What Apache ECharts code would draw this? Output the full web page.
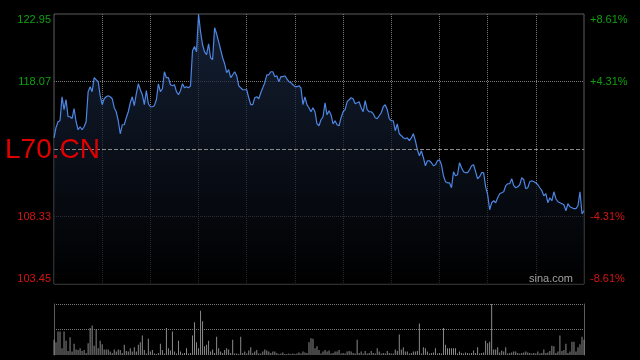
<!DOCTYPE html>
<html><head><meta charset="utf-8">
<script src="https://cdn.jsdelivr.net/npm/echarts@6/dist/echarts.min.js"></script>
<style>html,body{margin:0;padding:0;background:#000;}#c{width:640px;height:360px;}</style>
</head><body><div id="c"></div>
<script>
const symbolName = 'L70.CN';
const sourceText = 'sina.com';
const priceMin = 103.45, priceMax = 122.95, prevClose = 113.20;
const pctMin = -8.61, pctMax = 8.61, pctStep = 4.305;
const priceTickLabels = ['103.45', '108.33', '', '118.07', '122.95'];
const pctTickLabels = ['-8.61%', '-4.31%', '', '+4.31%', '+8.61%'];

const prices = [
114.01,114.74,115.17,115.24,116.97,116.04,116.76,115.53,115.53,115.39,
116.11,115.17,114.59,114.81,114.59,114.81,115.17,117.34,117.70,117.34,
118.35,118.20,118.06,117.05,116.40,116.83,116.97,117.05,116.97,116.83,
116.18,115.89,115.24,114.30,114.95,114.95,115.46,115.89,116.54,116.97,
116.33,117.19,117.91,117.48,117.12,116.40,117.41,116.47,116.25,116.25,
116.33,116.76,117.91,117.34,117.55,118.78,118.35,118.35,117.84,117.77,
117.84,117.34,117.12,117.41,117.91,117.62,117.70,117.62,117.77,120.30,
120.60,120.22,122.93,121.67,120.73,120.22,120.01,120.80,119.79,119.65,
121.96,121.52,120.95,120.37,119.79,119.36,118.71,118.93,118.35,118.56,
118.78,118.49,117.77,117.62,117.48,117.48,117.48,116.90,116.40,116.40,
116.90,116.97,116.83,117.26,117.62,117.99,118.56,118.56,118.78,118.78,
118.42,118.49,118.06,118.42,118.42,118.49,118.27,118.06,117.99,117.84,
117.70,117.70,117.77,117.62,116.40,116.97,116.40,116.18,115.89,116.18,
115.89,115.02,114.88,115.31,115.53,116.54,115.67,115.96,115.67,115.02,
115.24,114.95,114.88,115.46,115.89,116.04,116.61,116.76,116.90,116.83,
116.47,116.54,116.61,116.18,115.89,116.69,116.04,115.89,115.89,115.75,
115.46,115.39,115.60,115.82,116.25,116.40,116.04,115.39,115.24,115.24,
114.52,115.02,114.30,114.16,114.01,113.94,114.01,113.80,114.01,114.30,
113.80,113.15,112.71,113.07,112.57,111.99,112.35,112.35,112.21,111.99,
112.06,112.35,112.42,112.06,111.27,110.84,110.76,110.76,110.40,111.56,
111.27,111.34,112.21,111.85,111.56,111.49,111.49,111.70,111.99,112.06,
111.56,111.05,111.20,111.49,111.49,110.47,109.90,108.81,109.32,109.46,
109.32,109.68,109.97,110.04,110.11,110.55,110.69,110.69,111.05,110.55,
110.40,110.47,110.62,111.13,110.98,110.33,110.40,110.84,110.91,110.84,
110.76,110.62,110.40,110.19,109.82,109.97,109.32,109.68,109.46,110.11,
109.61,109.39,109.32,109.25,109.17,108.74,109.25,109.03,108.96,108.89,
108.89,109.10,110.11,108.52,108.74
];

const volumes = [
30,25,46,46,13,46,28,8,35,7,
22,11,10,13,8,10,4,23,53,58,
18,50,13,28,21,11,11,11,7,4,
11,7,11,10,4,20,8,7,13,7,
15,7,20,25,38,10,3,32,7,10,
3,2,4,22,10,3,53,13,9,46,
7,3,28,7,3,4,13,3,4,38,
64,25,13,87,66,17,20,28,7,11,
4,36,13,7,4,10,13,11,4,30,
3,3,2,36,4,7,3,9,15,4,
7,10,3,3,7,11,9,7,4,7,
7,4,2,3,5,2,2,3,2,3,
2,3,5,3,7,5,4,25,33,32,
13,17,10,3,7,10,7,9,3,4,
7,7,10,3,4,3,7,8,7,4,
3,30,4,7,3,8,3,4,8,4,
3,13,7,3,4,3,8,4,3,3,
11,8,40,11,15,7,7,3,4,7,
7,8,62,3,15,13,7,3,4,5,
13,3,4,3,53,20,13,13,13,13,
13,3,7,4,3,5,4,3,4,9,
4,15,3,4,5,28,23,26,100,11,
11,15,5,9,7,15,3,4,5,7,
7,4,3,4,5,7,5,4,3,4,
3,7,3,4,11,4,5,8,18,17,
4,7,38,8,10,22,4,7,26,26,
7,15,21,36,30
];

const categories = prices.map((_, i) => String(i));

const GREEN = '#0ea00e', RED = '#d41414', GRID = '#7a7a7a', BORDER = '#5c5c5c';
const FONT = 'Arial, "Liberation Sans", sans-serif';

const chart = echarts.init(document.getElementById('c'), null, {renderer: 'canvas'});

const vColors = [];
for (let k = 0; k < 12; k++) vColors.push(k === 0 || k === 11 ? 'transparent' : GRID);

chart.setOption({
  animation: false,
  backgroundColor: '#000',
  grid: [
    {left: 54, right: 56, top: 14, bottom: 76, show: true, borderColor: BORDER, borderWidth: 1, backgroundColor: 'transparent'},
    {left: 54, right: 56, top: 304, bottom: 5, show: false}
  ],
  xAxis: [
    {type: 'category', gridIndex: 0, data: categories, boundaryGap: false,
     axisLine: {show: false}, axisTick: {show: false}, axisLabel: {show: false},
     splitLine: {show: true, interval: 23, lineStyle: {color: vColors, type: [1, 1], width: 1}}},
    {type: 'category', gridIndex: 1, data: categories, boundaryGap: false,
     axisLine: {show: false}, axisTick: {show: false}, axisLabel: {show: false},
     splitLine: {show: false}}
  ],
  yAxis: [
    {type: 'value', gridIndex: 0, min: priceMin, max: priceMax, show: false, splitLine: {show: false}},
    {type: 'value', gridIndex: 0, position: 'left', min: pctMin, max: pctMax, interval: pctStep,
     axisLine: {show: false}, axisTick: {show: false},
     splitLine: {show: true, lineStyle: {color: ['transparent', GRID, 'transparent', GRID, 'transparent'], type: [1, 1], width: 1}},
     axisLabel: {margin: 3, fontSize: 11, fontFamily: FONT,
       verticalAlignMinLabel: 'bottom', verticalAlignMaxLabel: 'top',
       formatter: (v) => priceTickLabels[Math.round(v / pctStep) + 2],
       color: (v) => parseFloat(v) > 0 ? GREEN : RED}},
    {type: 'value', gridIndex: 0, position: 'right', min: pctMin, max: pctMax, interval: pctStep,
     axisLine: {show: false}, axisTick: {show: false}, splitLine: {show: false},
     axisLabel: {margin: 6, fontSize: 11, fontFamily: FONT,
       verticalAlignMinLabel: 'bottom', verticalAlignMaxLabel: 'top',
       formatter: (v) => pctTickLabels[Math.round(v / pctStep) + 2],
       color: (v) => parseFloat(v) > 0 ? GREEN : RED}},
    {type: 'value', gridIndex: 1, min: 0, max: 100, interval: 50, position: 'left',
     axisLine: {show: true, lineStyle: {color: BORDER, width: 1}}, axisTick: {show: false}, axisLabel: {show: false},
     splitLine: {show: true, lineStyle: {color: ['transparent', GRID, GRID], type: [1, 1], width: 1}}},
    {type: 'value', gridIndex: 1, min: 0, max: 100, interval: 50, position: 'right',
     axisLine: {show: true, lineStyle: {color: BORDER, width: 1}}, axisTick: {show: false}, axisLabel: {show: false},
     splitLine: {show: false}}
  ],
  series: [
    {type: 'line', xAxisIndex: 0, yAxisIndex: 0, data: prices, symbol: 'none', silent: true,
     lineStyle: {color: '#4d86e3', width: 1.2},
     areaStyle: {color: new echarts.graphic.LinearGradient(0, 0, 0, 1, [
       {offset: 0, color: '#1d2d4a'}, {offset: 1, color: '#000000'}])},
     markLine: {silent: true, symbol: 'none', label: {show: false},
       lineStyle: {color: '#8a8a8a', type: [4, 2], width: 1},
       data: [{yAxis: prevClose}]}},
    {type: 'bar', xAxisIndex: 1, yAxisIndex: 3, data: volumes, barWidth: 1, silent: true,
     itemStyle: {color: '#8a8a8a'}}
  ],
  graphic: [
    {type: 'text', z: 100, zlevel: 1, left: 5, top: 136, style: {text: symbolName, fill: '#e00000', font: '28px ' + FONT}},
    {type: 'text', z: 100, zlevel: 1, right: 67, top: 273, style: {text: sourceText, fill: '#a0a0a0', font: '11px ' + FONT}}
  ]
});
</script>
</body></html>
